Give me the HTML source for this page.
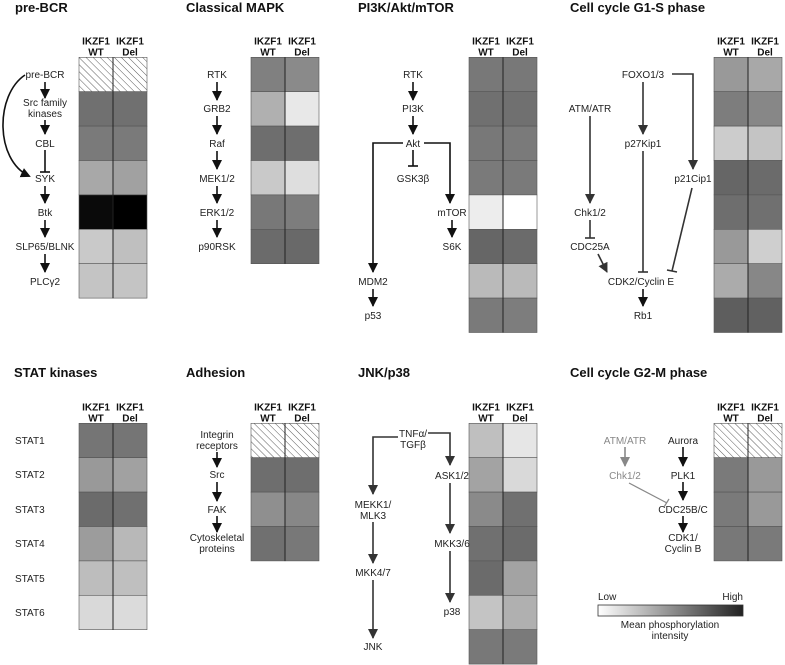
<!DOCTYPE html>
<html><head><meta charset="utf-8">
<style>
html,body{margin:0;padding:0;background:#fff;}
svg{display:block;font-family:"Liberation Sans",sans-serif;}
.t{font-size:13px;font-weight:bold;fill:#111;}
.h{font-size:10px;font-weight:bold;fill:#111;text-anchor:middle;}
.l{font-size:10px;fill:#222;text-anchor:middle;}
.ln{stroke:#111;stroke-width:1.6;fill:none;}
.g{stroke:#333;}
</style></head>
<body>
<svg id="fig" width="785" height="665" viewBox="0 0 785 665" xmlns="http://www.w3.org/2000/svg">
<defs>
<pattern id="hatch" patternUnits="userSpaceOnUse" width="5" height="5" patternTransform="rotate(-45)">
<rect width="5" height="5" fill="#fff"/><line x1="0" y1="0" x2="0" y2="5" stroke="#333" stroke-width="0.8"/>
</pattern>
<marker id="ah" markerWidth="10" markerHeight="10" refX="9" refY="5" orient="auto" markerUnits="userSpaceOnUse" viewBox="0 0 10 10"><path d="M0,0 L10,5 L0,10 Z" fill="#111"/></marker>
<marker id="ahg" markerWidth="10" markerHeight="10" refX="9" refY="5" orient="auto" markerUnits="userSpaceOnUse" viewBox="0 0 10 10"><path d="M0,0 L10,5 L0,10 Z" fill="#333"/></marker>
<marker id="ahl" markerWidth="10" markerHeight="10" refX="9" refY="5" orient="auto" markerUnits="userSpaceOnUse" viewBox="0 0 10 10"><path d="M0,0 L10,5 L0,10 Z" fill="#888"/></marker>
<marker id="ahc" markerWidth="12" markerHeight="12" refX="8" refY="5" orient="auto" markerUnits="userSpaceOnUse" viewBox="0 0 12 10"><path d="M0,0 L10,5 L0,10 Z" fill="#111"/></marker>
<linearGradient id="grad" x1="0" x2="1" y1="0" y2="0"><stop offset="0" stop-color="#fff"/><stop offset="1" stop-color="#222"/></linearGradient>
</defs>

<!-- Titles -->
<text class="t" x="15" y="12">pre-BCR</text>
<text class="t" x="186" y="12">Classical MAPK</text>
<text class="t" x="358" y="12">PI3K/Akt/mTOR</text>
<text class="t" x="570" y="12">Cell cycle G1-S phase</text>
<text class="t" x="14" y="377">STAT kinases</text>
<text class="t" x="186" y="377">Adhesion</text>
<text class="t" x="358" y="377">JNK/p38</text>
<text class="t" x="570" y="377">Cell cycle G2-M phase</text>

<g id="heatmaps"></g>

<!-- pre-BCR pathway -->
<g>
<text class="l" x="45" y="78">pre-BCR</text>
<text class="l" x="45" y="106">Src family</text><text class="l" x="45" y="117">kinases</text>
<text class="l" x="45" y="147">CBL</text>
<text class="l" x="45" y="182">SYK</text>
<text class="l" x="45" y="216">Btk</text>
<text class="l" x="45" y="250">SLP65/BLNK</text>
<text class="l" x="45" y="285">PLCγ2</text>
<line class="ln" x1="45" y1="82" x2="45" y2="98" marker-end="url(#ah)"/>
<line class="ln" x1="45" y1="120" x2="45" y2="134" marker-end="url(#ah)"/>
<line class="ln" x1="45" y1="150" x2="45" y2="172"/><line class="ln" x1="40" y1="172" x2="50" y2="172"/>
<line class="ln" x1="45" y1="186" x2="45" y2="203" marker-end="url(#ah)"/>
<line class="ln" x1="45" y1="220" x2="45" y2="237" marker-end="url(#ah)"/>
<line class="ln" x1="45" y1="254" x2="45" y2="272" marker-end="url(#ah)"/>
<path class="ln" d="M25,75 C-5,95 -5,160 29,176" marker-end="url(#ahc)"/>
</g>

<!-- MAPK pathway -->
<g>
<text class="l" x="217" y="78">RTK</text>
<text class="l" x="217" y="112">GRB2</text>
<text class="l" x="217" y="147">Raf</text>
<text class="l" x="217" y="182">MEK1/2</text>
<text class="l" x="217" y="216">ERK1/2</text>
<text class="l" x="217" y="250">p90RSK</text>
<line class="ln" x1="217" y1="82" x2="217" y2="100" marker-end="url(#ah)"/>
<line class="ln" x1="217" y1="116" x2="217" y2="134" marker-end="url(#ah)"/>
<line class="ln" x1="217" y1="151" x2="217" y2="169" marker-end="url(#ah)"/>
<line class="ln" x1="217" y1="186" x2="217" y2="203" marker-end="url(#ah)"/>
<line class="ln" x1="217" y1="220" x2="217" y2="237" marker-end="url(#ah)"/>
</g>

<!-- PI3K pathway -->
<g>
<text class="l" x="413" y="78">RTK</text>
<text class="l" x="413" y="112">PI3K</text>
<text class="l" x="413" y="147">Akt</text>
<text class="l" x="413" y="182">GSK3β</text>
<text class="l" x="452" y="216">mTOR</text>
<text class="l" x="452" y="250">S6K</text>
<text class="l" x="373" y="285">MDM2</text>
<text class="l" x="373" y="319">p53</text>
<line class="ln" x1="413" y1="82" x2="413" y2="100" marker-end="url(#ah)"/>
<line class="ln" x1="413" y1="116" x2="413" y2="134" marker-end="url(#ah)"/>
<line class="ln" x1="413" y1="150" x2="413" y2="166"/><line class="ln" x1="408" y1="166" x2="418" y2="166"/>
<path class="ln" d="M403,143 H373 V272" marker-end="url(#ah)"/>
<path class="ln" d="M424,143 H450 V203" marker-end="url(#ah)"/>
<line class="ln" x1="452" y1="220" x2="452" y2="237" marker-end="url(#ah)"/>
<line class="ln" x1="373" y1="289" x2="373" y2="306" marker-end="url(#ah)"/>
</g>

<!-- G1-S pathway -->
<g>
<text class="l" x="643" y="78">FOXO1/3</text>
<text class="l" x="590" y="112">ATM/ATR</text>
<text class="l" x="643" y="147">p27Kip1</text>
<text class="l" x="693" y="182">p21Cip1</text>
<text class="l" x="590" y="216">Chk1/2</text>
<text class="l" x="590" y="250">CDC25A</text>
<text class="l" x="641" y="285">CDK2/Cyclin E</text>
<text class="l" x="643" y="319">Rb1</text>
<line class="ln g" x1="643" y1="82" x2="643" y2="134" marker-end="url(#ahg)"/>
<path class="ln g" d="M672,74 H693 V169" marker-end="url(#ahg)"/>
<line class="ln g" x1="590" y1="116" x2="590" y2="203" marker-end="url(#ahg)"/>
<line class="ln g" x1="590" y1="220" x2="590" y2="238"/><line class="ln g" x1="585" y1="238" x2="595" y2="238"/>
<line class="ln g" x1="598" y1="254" x2="607" y2="272" marker-end="url(#ahg)"/>
<line class="ln g" x1="643" y1="151" x2="643" y2="272"/><line class="ln g" x1="638" y1="272" x2="648" y2="272"/>
<line class="ln g" x1="692" y1="188" x2="672" y2="271"/><line class="ln g" x1="667" y1="270" x2="677" y2="272"/>
<line class="ln" x1="643" y1="289" x2="643" y2="306" marker-end="url(#ah)"/>
</g>

<!-- STAT labels -->
<g style="font-size:10px;fill:#222">
<text x="15" y="444">STAT1</text><text x="15" y="478">STAT2</text><text x="15" y="513">STAT3</text>
<text x="15" y="547">STAT4</text><text x="15" y="582">STAT5</text><text x="15" y="616">STAT6</text>
</g>

<!-- Adhesion pathway -->
<g>
<text class="l" x="217" y="438">Integrin</text><text class="l" x="217" y="449">receptors</text>
<text class="l" x="217" y="478">Src</text>
<text class="l" x="217" y="513">FAK</text>
<text class="l" x="217" y="541">Cytoskeletal</text><text class="l" x="217" y="552">proteins</text>
<line class="ln" x1="217" y1="452" x2="217" y2="467" marker-end="url(#ah)"/>
<line class="ln" x1="217" y1="482" x2="217" y2="501" marker-end="url(#ah)"/>
<line class="ln" x1="217" y1="516" x2="217" y2="532" marker-end="url(#ah)"/>
</g>

<!-- JNK pathway -->
<g>
<text class="l" x="413" y="437">TNFα/</text><text class="l" x="413" y="448">TGFβ</text>
<text class="l" x="373" y="508">MEKK1/</text><text class="l" x="373" y="519">MLK3</text>
<text class="l" x="373" y="576">MKK4/7</text>
<text class="l" x="373" y="650">JNK</text>
<text class="l" x="452" y="479">ASK1/2</text>
<text class="l" x="452" y="547">MKK3/6</text>
<text class="l" x="452" y="615">p38</text>
<path class="ln g" d="M398,437 H373 V494" marker-end="url(#ahg)"/>
<line class="ln g" x1="373" y1="522" x2="373" y2="563" marker-end="url(#ahg)"/>
<line class="ln g" x1="373" y1="580" x2="373" y2="638" marker-end="url(#ahg)"/>
<path class="ln g" d="M428,433 H450 V465" marker-end="url(#ahg)"/>
<line class="ln g" x1="450" y1="483" x2="450" y2="533" marker-end="url(#ahg)"/>
<line class="ln g" x1="450" y1="551" x2="450" y2="602" marker-end="url(#ahg)"/>
</g>

<!-- G2-M pathway -->
<g>
<text class="l" x="625" y="444" style="fill:#888">ATM/ATR</text>
<text class="l" x="625" y="479" style="fill:#888">Chk1/2</text>
<text class="l" x="683" y="444">Aurora</text>
<text class="l" x="683" y="479">PLK1</text>
<text class="l" x="683" y="513">CDC25B/C</text>
<text class="l" x="683" y="541">CDK1/</text><text class="l" x="683" y="552">Cyclin B</text>
<line class="ln" style="stroke:#888" x1="625" y1="447" x2="625" y2="466" marker-end="url(#ahl)"/>
<line class="ln" style="stroke:#888;stroke-width:1.2" x1="629" y1="483" x2="667" y2="503"/>
<line class="ln" style="stroke:#888;stroke-width:1.2" x1="664" y1="507" x2="669" y2="499"/>
<line class="ln" x1="683" y1="447" x2="683" y2="466" marker-end="url(#ah)"/>
<line class="ln" x1="683" y1="482" x2="683" y2="500" marker-end="url(#ah)"/>
<line class="ln" x1="683" y1="516" x2="683" y2="532" marker-end="url(#ah)"/>
</g>

<!-- Legend -->
<g>
<text x="598" y="600" style="font-size:10px;fill:#222">Low</text>
<text x="743" y="600" style="font-size:10px;fill:#222;text-anchor:end">High</text>
<rect x="598" y="605" width="145" height="11" fill="url(#grad)" stroke="#333" stroke-width="0.8"/>
<text class="l" x="670" y="628">Mean phosphorylation</text>
<text class="l" x="670" y="639">intensity</text>
</g>
</svg>

<script>
// Intensity values (0 = white/low, 100 = black/high); null = not measured (hatched)
const preBcrWT  = [null, 56, 52, 34, 96, 21, 23];
const preBcrDel = [null, 56, 52, 37, 100, 25, 23];
const mapkWT  = [50, 31, 57, 21, 53, 58];
const mapkDel = [46, 9, 57, 13, 51, 59];
const pi3kWT  = [53, 56, 53, 52, 7, 60, 27, 52];
const pi3kDel = [53, 56, 52, 52, 0, 58, 27, 51];
const g1sWT   = [40, 51, 20, 60, 57, 40, 33, 63];
const g1sDel  = [34, 47, 23, 58, 56, 19, 47, 62];
const statWT  = [54, 40, 58, 39, 26, 15];
const statDel = [54, 37, 56, 28, 25, 14];
const adhWT   = [null, 57, 44, 56];
const adhDel  = [null, 57, 47, 53];
const jnkWT   = [25, 36, 46, 56, 58, 23, 53];
const jnkDel  = [10, 15, 56, 58, 36, 31, 52];
const g2mWT   = [null, 52, 52, 53];
const g2mDel  = [null, 40, 40, 52];
const columnLabels = ["WT", "Del"];

const NS = "http://www.w3.org/2000/svg";
const root = document.getElementById("heatmaps");
const ROW_H = 34.4;
function grey(v){ const g = Math.round(255 - v * 2.55); return `rgb(${g},${g},${g})`; }

function heatmap(name, x, top, wt, del){
  const g = document.createElementNS(NS, "g");
  
  
  root.appendChild(g);
  const cw = 34;
  [wt, del].forEach((series, c) => {
    const hx = x + c * cw + cw / 2;
    const t1 = document.createElementNS(NS, "text");
    
    
    t1.setAttribute("class", "h"); t1.setAttribute("x", hx); t1.setAttribute("y", top - 13);
    t1.textContent = "IKZF1"; g.appendChild(t1);
    const t2 = document.createElementNS(NS, "text");
    
    
    t2.setAttribute("class", "h"); t2.setAttribute("x", hx); t2.setAttribute("y", top - 2);
    t2.textContent = columnLabels[c]; g.appendChild(t2);
    series.forEach((v, r) => {
      const rc = document.createElementNS(NS, "rect");
      
      
      rc.setAttribute("x", x + c * cw); rc.setAttribute("y", top + r * ROW_H);
      rc.setAttribute("width", cw); rc.setAttribute("height", ROW_H);
      rc.setAttribute("fill", v === null ? "url(#hatch)" : grey(v));
      rc.setAttribute("stroke", "#555"); rc.setAttribute("stroke-width", "0.6");
      g.appendChild(rc);
    });
  });
  const n = wt.length;
  const div = document.createElementNS(NS, "line");
  
  
  div.setAttribute("x1", x + cw); div.setAttribute("x2", x + cw);
  div.setAttribute("y1", top); div.setAttribute("y2", top + n * ROW_H);
  div.setAttribute("stroke", "#222"); div.setAttribute("stroke-width", "1");
  g.appendChild(div);
}

heatmap("pre-bcr", 79, 57.3, preBcrWT, preBcrDel);
heatmap("mapk", 251, 57.3, mapkWT, mapkDel);
heatmap("pi3k", 469, 57.3, pi3kWT, pi3kDel);
heatmap("g1s", 714, 57.3, g1sWT, g1sDel);
heatmap("stat", 79, 423.3, statWT, statDel);
heatmap("adhesion", 251, 423.3, adhWT, adhDel);
heatmap("jnk", 469, 423.3, jnkWT, jnkDel);
heatmap("g2m", 714, 423.3, g2mWT, g2mDel);
</script>
</body></html>
